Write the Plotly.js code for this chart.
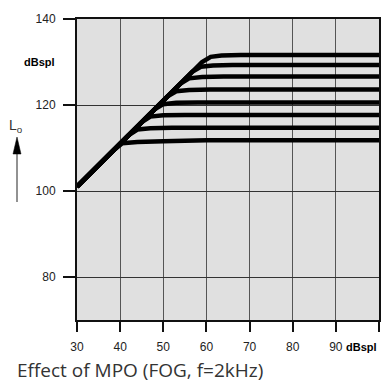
<!DOCTYPE html>
<html><head><meta charset="utf-8">
<script src="https://cdn.plot.ly/plotly-3.0.1.min.js"></script>
<style>html,body{margin:0;padding:0;background:#fff;}#plot{width:381px;height:383px;}</style>
</head><body><div id="plot"></div>
<script>
// Input level (dBspl) / output level Lo (dBspl) per MPO setting
const mpo1_x = [30, 38.5, 40.5, 44, 50, 60, 100];
const mpo1_y = [101, 109.5, 111.1, 111.4, 111.55, 111.8, 111.8];
const mpo2_x = [30, 42, 44, 47, 52, 100];
const mpo2_y = [101, 113, 114.3, 114.6, 114.7, 114.7];
const mpo3_x = [30, 45, 47, 50, 55, 100];
const mpo3_y = [101, 116, 117.3, 117.6, 117.7, 117.7];
const mpo4_x = [30, 48, 50, 53, 58, 100];
const mpo4_y = [101, 119, 120.2, 120.5, 120.6, 120.6];
const mpo5_x = [30, 51, 53, 56, 61, 100];
const mpo5_y = [101, 122, 123.2, 123.5, 123.6, 123.6];
const mpo6_x = [30, 54, 56, 59, 64, 100];
const mpo6_y = [101, 125, 126.2, 126.5, 126.6, 126.6];
const mpo7_x = [30, 56.7, 58.7, 61.5, 66, 100];
const mpo7_y = [101, 127.7, 128.9, 129.2, 129.3, 129.3];
const mpo8_x = [30, 59, 61, 63.5, 68, 100];
const mpo8_y = [101, 130, 131.2, 131.5, 131.6, 131.6];

const xTickVals = [30, 40, 50, 60, 70, 80, 90, 100];
const xTickText = ['30', '40', '50', '60', '70', '80', '90', ''];
const yTickVals = [80, 100, 120, 140];
const yTickText = ['80', '100', '120', '140'];

const series = [[mpo1_x, mpo1_y],[mpo2_x, mpo2_y],[mpo3_x, mpo3_y],[mpo4_x, mpo4_y],
                [mpo5_x, mpo5_y],[mpo6_x, mpo6_y],[mpo7_x, mpo7_y],[mpo8_x, mpo8_y]];
const traces = series.map(s => ({
  x: s[0], y: s[1], type: 'scatter', mode: 'lines',
  line: {color: '#000', width: 4.5, shape: 'linear'}, hoverinfo: 'skip', showlegend: false
}));

// pixel -> paper helpers for decorations outside the plot area
const px = p => (p - 77) / 302;
const py = p => (320 - p) / 301;

const tickFont = {family: 'Liberation Sans, Arial, sans-serif', size: 12, color: '#222'};
const layout = {
  width: 381, height: 383,
  margin: {l: 77, r: 2, t: 19, b: 63},
  paper_bgcolor: '#fff', plot_bgcolor: '#e0e0e0',
  showlegend: false,
  xaxis: {
    range: [30, 100], tickvals: xTickVals, ticktext: xTickText,
    ticks: 'outside', ticklen: 10, tickwidth: 2, tickcolor: '#111',
    showgrid: true, gridcolor: '#555', gridwidth: 1,
    showline: true, linecolor: '#111', linewidth: 2, mirror: true,
    zeroline: false, tickfont: tickFont, fixedrange: true, ticklabelstandoff: 5
  },
  yaxis: {
    range: [70, 140], tickvals: yTickVals, ticktext: yTickText,
    ticks: 'outside', ticklen: 12, tickwidth: 2, tickcolor: '#111',
    showgrid: true, gridcolor: '#333', gridwidth: 1,
    showline: true, linecolor: '#111', linewidth: 2, mirror: true,
    zeroline: false, tickfont: tickFont, fixedrange: true, ticklabelstandoff: 5
  },
  title: {
    text: 'Effect of MPO (FOG, f=2kHz)',
    font: {family: 'Open Sans, Noto Sans, sans-serif', size: 19, color: '#333'},
    xref: 'container', yref: 'container', x: 17/381, xanchor: 'left',
    y: 1 - 370/383, yanchor: 'middle'
  },
  shapes: [
    {type: 'line', xref: 'paper', yref: 'paper', x0: px(17), x1: px(17), y0: py(150), y1: py(202),
     line: {color: '#777', width: 1.6}},
    {type: 'path', xref: 'paper', yref: 'paper',
     path: `M ${px(17)} ${py(137)} L ${px(13)} ${py(154)} L ${px(21)} ${py(154)} Z`,
     fillcolor: '#000', line: {color: '#000', width: 0.5}}
  ],
  annotations: [
    {text: '<b>dBspl</b>', xref: 'paper', yref: 'paper', x: px(57), y: py(62),
     xanchor: 'right', yanchor: 'middle', showarrow: false,
     font: {family: 'Liberation Sans, Arial, sans-serif', size: 11, color: '#000'}},
    {text: '<b>dBspl</b>', xref: 'paper', yref: 'paper', x: 1, y: py(347),
     xanchor: 'right', yanchor: 'middle', showarrow: false,
     font: {family: 'Liberation Sans, Arial, sans-serif', size: 11, color: '#000'}},
    {text: 'L<sub>o</sub>', xref: 'paper', yref: 'paper', x: px(16), y: py(126),
     xanchor: 'center', yanchor: 'middle', showarrow: false,
     font: {family: 'Liberation Sans, Arial, sans-serif', size: 14, color: '#333'}}
  ]
};
Plotly.newPlot('plot', traces, layout, {displayModeBar: false, staticPlot: true});
</script></body></html>
